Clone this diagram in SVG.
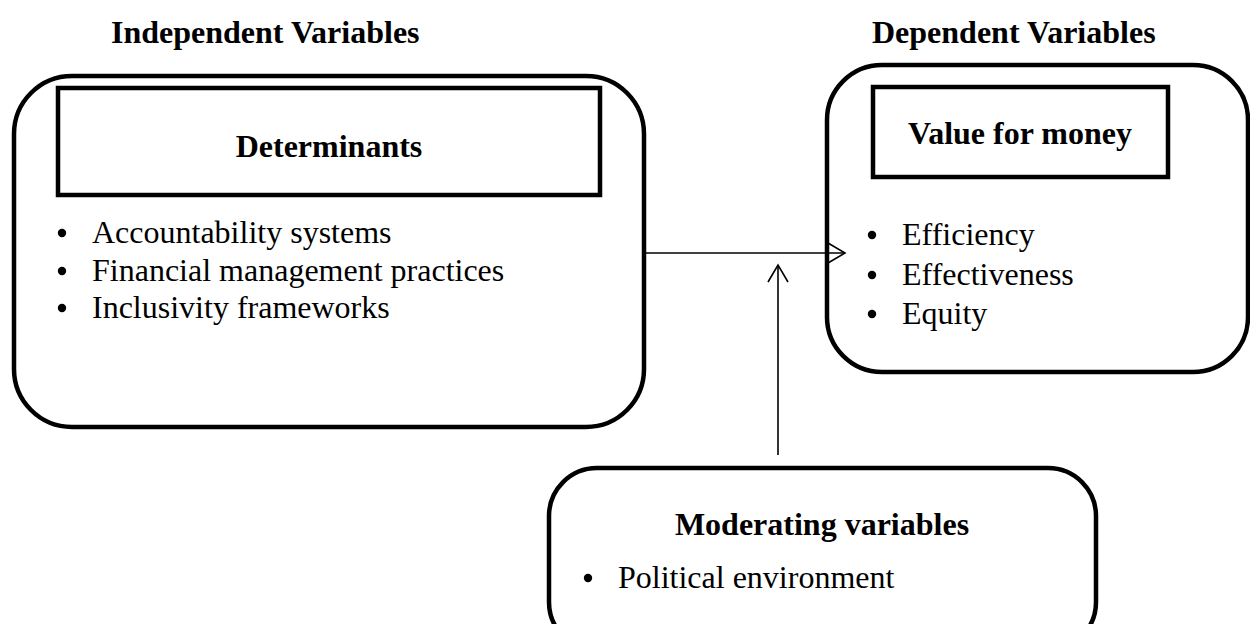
<svg xmlns="http://www.w3.org/2000/svg" width="1250" height="624" viewBox="0 0 1250 624">
<style>
.box{fill:none;stroke:#000;stroke-width:4.5}
.t{font-family:"Liberation Serif","Times New Roman",serif;font-size:32px;fill:#000}
.b{font-weight:bold}
.c{stroke:#000;stroke-width:1.6;fill:none}
</style>
<rect width="1250" height="624" fill="#fff"/>
<g id="titles">
<text class="t b" x="111" y="43">Independent Variables</text>
<text class="t b" x="872" y="43">Dependent Variables</text>
</g>
<g id="determinants">
<rect class="box" x="14" y="76" width="630" height="351" rx="58"/>
<rect class="box" x="58" y="88" width="542" height="107"/>
<text class="t b" x="329" y="157" text-anchor="middle">Determinants</text>
<circle cx="62" cy="233" r="4.2"/>
<text class="t" x="92" y="243">Accountability systems</text>
<circle cx="62" cy="271" r="4.2"/>
<text class="t" x="92" y="281">Financial management practices</text>
<circle cx="62" cy="308" r="4.2"/>
<text class="t" x="92" y="318">Inclusivity frameworks</text>
</g>
<g id="value">
<rect class="box" x="827" y="65" width="421" height="307" rx="55"/>
<rect class="box" x="873" y="87" width="295" height="90"/>
<text class="t b" x="1020" y="144" text-anchor="middle">Value for money</text>
<circle cx="872" cy="235" r="4.2"/>
<text class="t" x="902" y="245">Efficiency</text>
<circle cx="872" cy="275" r="4.2"/>
<text class="t" x="902" y="285">Effectiveness</text>
<circle cx="872" cy="314" r="4.2"/>
<text class="t" x="902" y="324">Equity</text>
</g>
<g id="moderating">
<rect class="box" x="549" y="468" width="547" height="182" rx="48"/>
<text class="t b" x="822" y="535" text-anchor="middle">Moderating variables</text>
<circle cx="588" cy="578" r="4.2"/>
<text class="t" x="618" y="588">Political environment</text>
</g>
<g id="connectors">
<path class="c" d="M645 253 L845 253"/>
<path class="c" d="M828 243 L845 253 L828 263"/>
<path class="c" d="M778 455 L778 266"/>
<path class="c" d="M768 282 L778 265 L788 282"/>
</g>
</svg>
